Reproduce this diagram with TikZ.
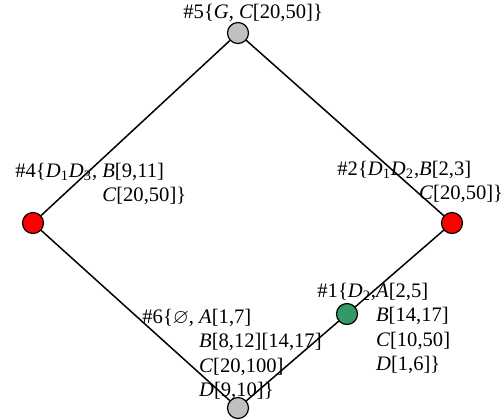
\documentclass[tikz,border=0pt]{standalone}
\usepackage{fontspec}
\setmainfont{Liberation Serif}
\usepackage{amssymb}
\definecolor{DotRed}{HTML}{FF0000}
\definecolor{DotGray}{HTML}{C0C0C0}
\definecolor{DotGreen}{HTML}{339966}
\usetikzlibrary{positioning}
\newcommand{\iv}[1]{\textit{#1}}
\newcommand{\sbs}[1]{\textsubscript{#1}}

\begin{document}
\begin{tikzpicture}[x=0.5pt, y=-0.5pt, every node/.style={font=\fontsize{10.3}{12.3}\selectfont}]
\tikzset{dot/.style={draw, circle, line width=0.6pt, minimum size=10.5pt, inner sep=0pt}}
\tikzset{lab/.style={anchor=base west, inner sep=0pt}}
\tikzset{edge/.style={line width=0.75pt}}
\useasboundingbox (0,0) rectangle (504,419);
\node[dot, fill=DotGray] (n5) at (238,33) {};
\node[dot, fill=DotRed] (n4) at (33,223) {};
\node[dot, fill=DotRed] (n2) at (452,223) {};
\node[dot, fill=DotGray] (n6) at (238,408) {};
\node[dot, fill=DotGreen] (n1) at (347,314) {};
\draw[edge] (n5) -- (n4);
\draw[edge] (n5) -- (n2);
\draw[edge] (n4) -- (n6);
\draw[edge] (n6) -- (n1);
\draw[edge] (n1) -- (n2);
% labels
\node[lab] (lab5) at (183,18) {\#5\{\iv{G}, \iv{C}[20,50]\}};
\node[lab] (lab4) at (15,177) {\begin{tabular}[t]{@{}l@{}l@{}}
\#4\{\iv{D}\sbs{1}\iv{D}\sbs{3},\kern.25em & \iv{B}[9,11]\\ & \iv{C}[20,50]\}\end{tabular}};
\node[lab] (lab2) at (337,175) {\begin{tabular}[t]{@{}l@{}l@{}}
\#2\{\iv{D}\sbs{1}\iv{D}\sbs{2}, & \iv{B}[2,3]\\ & \iv{C}[20,50]\}\end{tabular}};
\node[lab] (lab6) at (142,323) {\begin{tabular}[t]{@{}l@{}l@{}}
\#6\{$\varnothing$,\kern.25em & \iv{A}[1,7]\\ & \iv{B}[8,12][14,17]\\ & \iv{C}[20,100]\\ & \iv{D}[9,10]\}\end{tabular}};
\node[lab] (lab1) at (317,297) {\begin{tabular}[t]{@{}l@{}l@{}}
\#1\{\iv{D}\sbs{2}, & \iv{A}[2,5]\\ & \iv{B}[14,17]\\ & \iv{C}[10,50]\\ & \iv{D}[1,6]\}\end{tabular}};
\end{tikzpicture}
\end{document}
